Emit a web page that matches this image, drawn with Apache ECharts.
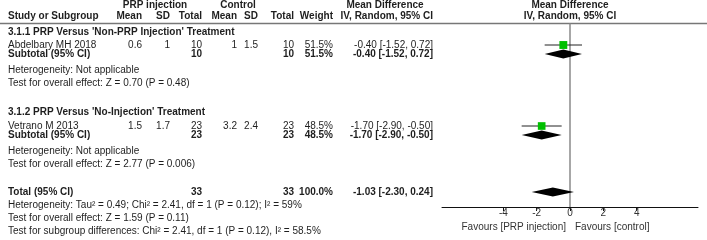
<!DOCTYPE html>
<html>
<head>
<meta charset="utf-8">
<script src="https://cdn.jsdelivr.net/npm/echarts@6/dist/echarts.min.js"></script>
<style>
  html, body { margin: 0; padding: 0; background: #fff; }
  #chart { width: 707px; height: 240px; }
</style>
</head>
<body>
<div id="chart"></div>
<script>
// ---------------- DATA ----------------
const groupTitles = ["3.1.1 PRP Versus 'Non-PRP Injection' Treatment", "3.1.2 PRP Versus 'No-Injection' Treatment"];
const studies = ['Abdelbary MH 2018', 'Vetrano M 2013'];
const prpMean = [0.6, 1.5];
const prpSD = [1, 1.7];
const prpTotal = [10, 23];
const ctrlMean = [1, 3.2];
const ctrlSD = [1.5, 2.4];
const ctrlTotal = [10, 23];
const weights = [51.5, 48.5];
const md = [-0.40, -1.70];
const ciLow = [-1.52, -2.90];
const ciHigh = [0.72, -0.50];
// subgroup pooled (one study each)
const subMd = [-0.40, -1.70];
const subLow = [-1.52, -2.90];
const subHigh = [0.72, -0.50];
const subHet = ['Heterogeneity: Not applicable', 'Heterogeneity: Not applicable'];
const subTest = ['Test for overall effect: Z = 0.70 (P = 0.48)', 'Test for overall effect: Z = 2.77 (P = 0.006)'];
// overall
const totalPrp = 33, totalCtrl = 33, totalWeight = 100.0;
const totalMd = -1.03, totalLow = -2.30, totalHigh = 0.24;
const totalNotes = [
  'Heterogeneity: Tau\u00b2 = 0.49; Chi\u00b2 = 2.41, df = 1 (P = 0.12); I\u00b2 = 59%',
  'Test for overall effect: Z = 1.59 (P = 0.11)',
  'Test for subgroup differences: Chi\u00b2 = 2.41, df = 1 (P = 0.12), I\u00b2 = 58.5%'
];
const xTicks = [-4, -2, 0, 2, 4];
const favourLeft = 'Favours [PRP injection]';
const favourRight = 'Favours [control]';

// ---------------- LAYOUT ----------------
const FONT = '"Liberation Sans", Arial, sans-serif';
const FS = 10;
const TXT = '#1e1e1e';
const rowY = {
  h1: 5, h2: 16, rule: 23.5,
  groups: [32, 112], studies: [45, 126], subs: [54, 135], hets: [70, 151], tests: [83, 164],
  total: 192, notes: [205, 218, 231], favours: 227
};
const colX = { left: 8, mean1: 142, sd1: 170, n1: 202, mean2: 237, sd2: 258, n2: 294, weight: 333, ci: 433 };

const fmt2 = v => v.toFixed(2);
const ciText = (m, l, h) => fmt2(m) + ' [' + fmt2(l) + ', ' + fmt2(h) + ']';

const graphics = [];
function txt(s, x, y, opts) {
  opts = opts || {};
  graphics.push({
    type: 'text', x: x, y: y, silent: true,
    style: {
      text: s, fill: opts.fill || TXT,
      fontSize: FS, fontFamily: FONT, fontWeight: opts.bold ? 'bold' : 'normal',
      textAlign: opts.align || 'left', textVerticalAlign: 'middle', verticalAlign: 'middle'
    }
  });
}
// headers
txt('PRP injection', 155, rowY.h1, { bold: true, align: 'center' });
txt('Control', 238, rowY.h1, { bold: true, align: 'center' });
txt('Mean Difference', 385, rowY.h1, { bold: true, align: 'center' });
txt('Mean Difference', 570, rowY.h1, { bold: true, align: 'center' });
txt('Study or Subgroup', colX.left, rowY.h2, { bold: true });
txt('Mean', colX.mean1, rowY.h2, { bold: true, align: 'right' });
txt('SD', colX.sd1, rowY.h2, { bold: true, align: 'right' });
txt('Total', colX.n1, rowY.h2, { bold: true, align: 'right' });
txt('Mean', colX.mean2, rowY.h2, { bold: true, align: 'right' });
txt('SD', colX.sd2, rowY.h2, { bold: true, align: 'right' });
txt('Total', colX.n2, rowY.h2, { bold: true, align: 'right' });
txt('Weight', colX.weight, rowY.h2, { bold: true, align: 'right' });
txt('IV, Random, 95% CI', colX.ci, rowY.h2, { bold: true, align: 'right' });
txt('IV, Random, 95% CI', 570, rowY.h2, { bold: true, align: 'center' });
graphics.push({ type: 'line', silent: true, shape: { x1: 0, y1: rowY.rule, x2: 707, y2: rowY.rule }, style: { stroke: '#777', lineWidth: 1.5 } });

for (let i = 0; i < studies.length; i++) {
  txt(groupTitles[i], colX.left, rowY.groups[i], { bold: true });
  const y = rowY.studies[i];
  txt(studies[i], colX.left, y);
  txt(String(prpMean[i]), colX.mean1, y, { align: 'right' });
  txt(String(prpSD[i]), colX.sd1, y, { align: 'right' });
  txt(String(prpTotal[i]), colX.n1, y, { align: 'right' });
  txt(String(ctrlMean[i]), colX.mean2, y, { align: 'right' });
  txt(String(ctrlSD[i]), colX.sd2, y, { align: 'right' });
  txt(String(ctrlTotal[i]), colX.n2, y, { align: 'right' });
  txt(weights[i].toFixed(1) + '%', colX.weight, y, { align: 'right' });
  txt(ciText(md[i], ciLow[i], ciHigh[i]), colX.ci, y, { align: 'right' });
  const ys = rowY.subs[i];
  txt('Subtotal (95% CI)', colX.left, ys, { bold: true });
  txt(String(prpTotal[i]), colX.n1, ys, { bold: true, align: 'right' });
  txt(String(ctrlTotal[i]), colX.n2, ys, { bold: true, align: 'right' });
  txt(weights[i].toFixed(1) + '%', colX.weight, ys, { bold: true, align: 'right' });
  txt(ciText(subMd[i], subLow[i], subHigh[i]), colX.ci, ys, { bold: true, align: 'right' });
  txt(subHet[i], colX.left, rowY.hets[i]);
  txt(subTest[i], colX.left, rowY.tests[i]);
}
txt('Total (95% CI)', colX.left, rowY.total, { bold: true });
txt(String(totalPrp), colX.n1, rowY.total, { bold: true, align: 'right' });
txt(String(totalCtrl), colX.n2, rowY.total, { bold: true, align: 'right' });
txt(totalWeight.toFixed(1) + '%', colX.weight, rowY.total, { bold: true, align: 'right' });
txt(ciText(totalMd, totalLow, totalHigh), colX.ci, rowY.total, { bold: true, align: 'right' });
totalNotes.forEach((s, k) => txt(s, colX.left, rowY.notes[k]));
txt(favourLeft, 566, rowY.favours, { align: 'right', fill: '#333' });
txt(favourRight, 575, rowY.favours, { align: 'left', fill: '#333' });

// ---------------- PLOT SERIES ----------------
const studyData = studies.map((s, i) => [md[i], ciLow[i], ciHigh[i], rowY.studies[i], weights[i]]);
const diamondData = subMd.map((m, i) => [m, subLow[i], subHigh[i], rowY.subs[i]]);
diamondData.push([totalMd, totalLow, totalHigh, rowY.total]);

const chart = echarts.init(document.getElementById('chart'), null, { renderer: 'canvas' });
chart.setOption({
  animation: false,
  backgroundColor: '#fff',
  grid: { left: 442, right: 9, top: 0, bottom: 240 - 207, containLabel: false },
  xAxis: {
    type: 'value', min: -7.68, max: 7.68, position: 'bottom',
    splitLine: { show: false },
    axisLine: { show: true, onZero: false, lineStyle: { color: '#111', width: 1 } },
    axisTick: { show: true, length: 4, lineStyle: { color: '#111' }, customValues: xTicks },
    axisLabel: { show: true, customValues: xTicks, color: '#333', fontSize: FS, fontFamily: FONT, margin: 1 }
  },
  yAxis: { type: 'value', min: 0, max: 207, inverse: true, show: false },
  graphic: graphics,
  series: [
    {
      type: 'custom', clip: false, silent: true,
      data: [[0, rowY.rule, 207]],
      renderItem: function (params, api) {
        const a = api.coord([api.value(0), api.value(1)]);
        const b = api.coord([api.value(0), api.value(2)]);
        return { type: 'line', shape: { x1: a[0], y1: a[1], x2: b[0], y2: b[1] }, style: { stroke: '#8a8a8a', lineWidth: 1.5 } };
      },
      z: 1
    },
    {
      type: 'custom', clip: false, silent: true,
      data: studyData,
      renderItem: function (params, api) {
        const y = api.value(3);
        const pm = api.coord([api.value(0), y]);
        const pl = api.coord([api.value(1), y]);
        const ph = api.coord([api.value(2), y]);
        const s = Math.sqrt(api.value(4)) * 1.1;
        return {
          type: 'group', children: [
            { type: 'line', shape: { x1: pl[0], y1: pm[1], x2: ph[0], y2: pm[1] }, style: { stroke: '#222', lineWidth: 1 } },
            { type: 'rect', shape: { x: pm[0] - s / 2, y: pm[1] - s / 2, width: s, height: s }, style: { fill: '#00c000' } }
          ]
        };
      },
      z: 3
    },
    {
      type: 'custom', clip: false, silent: true,
      data: diamondData,
      renderItem: function (params, api) {
        const y = api.value(3);
        const pm = api.coord([api.value(0), y]);
        const pl = api.coord([api.value(1), y]);
        const ph = api.coord([api.value(2), y]);
        const h = 4.5;
        return {
          type: 'polygon',
          shape: { points: [[pl[0], pm[1]], [pm[0], pm[1] - h], [ph[0], pm[1]], [pm[0], pm[1] + h]] },
          style: { fill: '#000' }
        };
      },
      z: 3
    }
  ]
});
</script>
</body>
</html>
